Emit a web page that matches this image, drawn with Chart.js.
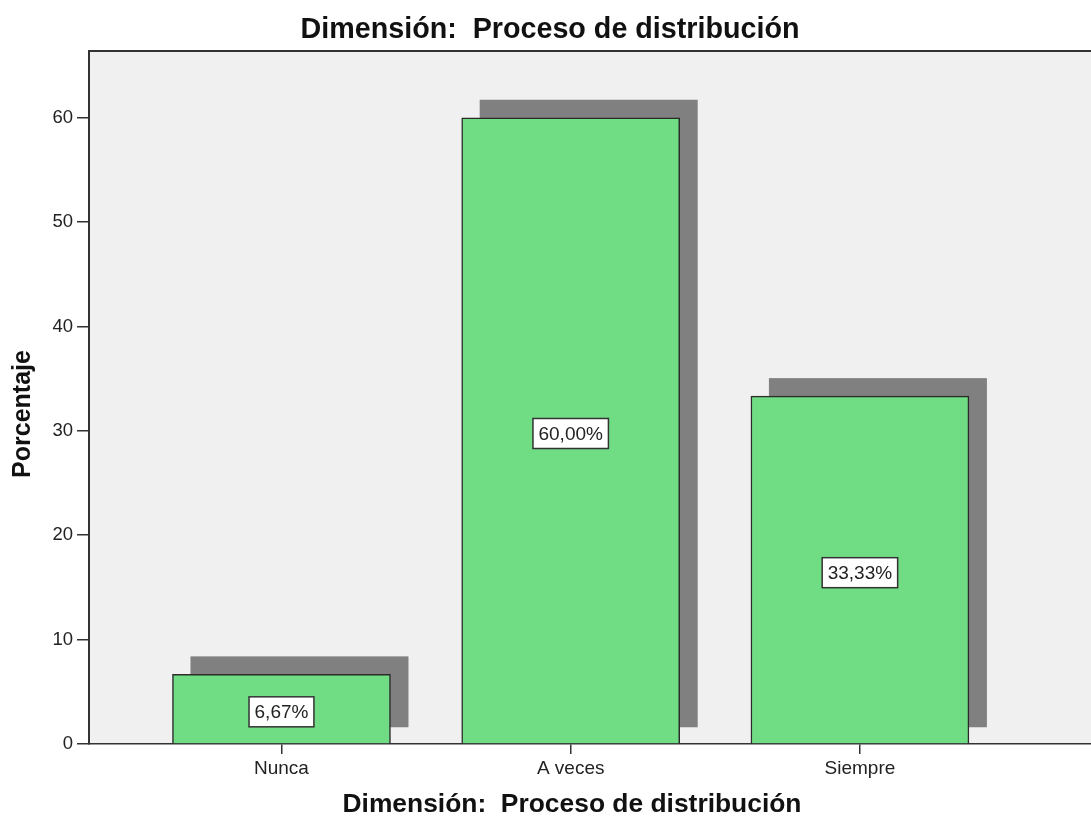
<!DOCTYPE html>
<html>
<head>
<meta charset="utf-8">
<script src="https://cdn.jsdelivr.net/npm/chart.js@4/dist/chart.umd.min.js"></script>
<style>
    body { margin: 0; background: #fff; }
    #wrap { width: 1091px; height: 818px; position: relative; }
</style>
</head>
<body>
<div id="wrap"><canvas id="distribucionChart"></canvas></div>
<script>
const categories = ["Nunca", "A veces", "Siempre"];
const percentages = [6.67, 60.00, 33.33];
const yTicks = [0, 10, 20, 30, 40, 50, 60];

const chartTitle = "Dimensión:  Proceso de distribución";
const xTitle = "Dimensión:  Proceso de distribución";
const yTitle = "Porcentaje";

const FONT = "Arial, 'Liberation Sans', sans-serif";
const INK = '#222';

function formatPct(v) {
    return v.toFixed(2).replace('.', ',') + '%';
}

// grey plot background plus the frame line along the top
const plotBackground = {
    id: 'plotBackground',
    beforeDraw(chart) {
        const {ctx, chartArea: a} = chart;
        ctx.save();
        ctx.fillStyle = '#f0f0f0';
        ctx.fillRect(a.left, a.top, a.right - a.left, a.bottom - a.top);
        ctx.strokeStyle = '#333';
        ctx.lineWidth = 2;
        ctx.beginPath();
        ctx.moveTo(a.left, a.top);
        ctx.lineTo(a.right, a.top);
        ctx.stroke();
        ctx.restore();
    }
};

// dark drop shadow offset up and to the right of every bar
const barShadow = {
    id: 'barShadow',
    beforeDatasetsDraw(chart) {
        const ctx = chart.ctx;
        ctx.save();
        ctx.fillStyle = '#808080';
        for (const bar of chart.getDatasetMeta(0).data) {
            const {x, y, base, width} = bar.getProps(['x', 'y', 'base', 'width'], true);
            const top = y - 18;
            ctx.fillRect(x - width / 2 + 18, top, width, (base - 16) - top);
        }
        ctx.restore();
    }
};

// boxed percentage in the middle of each bar
const valueBoxes = {
    id: 'valueBoxes',
    afterDatasetsDraw(chart) {
        const ctx = chart.ctx;
        ctx.save();
        ctx.font = `19px ${FONT}`;
        ctx.textAlign = 'center';
        ctx.textBaseline = 'middle';
        chart.getDatasetMeta(0).data.forEach((bar, i) => {
            const {x, y, base} = bar.getProps(['x', 'y', 'base'], true);
            const text = formatPct(percentages[i]);
            const w = ctx.measureText(text).width + 11;
            const h = 30;
            const cy = (y + base) / 2 + 3;
            ctx.fillStyle = '#fff';
            ctx.fillRect(x - w / 2, cy - h / 2, w, h);
            ctx.strokeStyle = '#333';
            ctx.lineWidth = 1.5;
            ctx.strokeRect(x - w / 2, cy - h / 2, w, h);
            ctx.fillStyle = INK;
            ctx.fillText(text, x, cy + 1);
        });
        ctx.restore();
    }
};

// axis titles sit a little off the plot centre, so they are drawn by hand
const axisTitles = {
    id: 'axisTitles',
    afterDraw(chart) {
        const ctx = chart.ctx;
        ctx.save();
        ctx.fillStyle = '#111';
        ctx.textAlign = 'center';
        ctx.textBaseline = 'middle';
        ctx.font = `bold 26.4px ${FONT}`;
        ctx.fillText(xTitle, 572, 805);
        ctx.translate(23, 414);
        ctx.rotate(-Math.PI / 2);
        ctx.font = `bold 25px ${FONT}`;
        ctx.fillText(yTitle, 0, 0);
        ctx.restore();
    }
};

new Chart(
    document.getElementById("distribucionChart"),
    {
        type: 'bar',
        data: {
            datasets: [{
                label: 'Porcentaje',
                data: percentages.map((v, i) => ({ x: i + 1, y: v })),
                backgroundColor: '#70dc84',
                borderColor: '#2b2b2b',
                borderWidth: 1.5,
                barThickness: 218,
            }]
        },
        options: {
            responsive: true,
            maintainAspectRatio: false,
            animation: false,
            layout: { padding: { left: 9, right: 0, top: 0, bottom: 0 } },
            plugins: {
                legend: { display: false },
                tooltip: { enabled: false },
                title: {
                    display: true,
                    text: chartTitle,
                    color: '#111',
                    font: { family: FONT, size: 28.7, weight: 'bold', lineHeight: 1.2 },
                    padding: { top: 13, bottom: 3.5 },
                },
            },
            scales: {
                x: {
                    type: 'linear',
                    offset: false,
                    min: 0.3345,
                    max: 3.799,
                    afterBuildTicks: s => { s.ticks = categories.map((c, i) => ({ value: i + 1 })); },
                    afterFit: s => { s.height = 74; },
                    ticks: {
                        callback: v => categories[v - 1],
                        font: { family: FONT, size: 19 },
                        color: INK,
                        padding: 3,
                        autoSkip: false,
                        maxRotation: 0,
                    },
                    grid: { offset: false, drawOnChartArea: false, tickLength: 10, color: '#333', lineWidth: 1.5 },
                    border: { color: '#333', width: 1.5 },
                },
                y: {
                    min: 0,
                    max: 66.4,
                    afterBuildTicks: s => { s.ticks = yTicks.map(v => ({ value: v })); },
                    afterFit: s => { s.width = 80; },
                    ticks: {
                        font: { family: FONT, size: 18.5 },
                        color: INK,
                        padding: 4,
                    },
                    grid: { drawOnChartArea: false, tickLength: 12, color: '#333', lineWidth: 1.5 },
                    border: { color: '#333', width: 2 },
                },
            },
        },
        plugins: [plotBackground, barShadow, valueBoxes, axisTitles],
    }
);
</script>
</body>
</html>
